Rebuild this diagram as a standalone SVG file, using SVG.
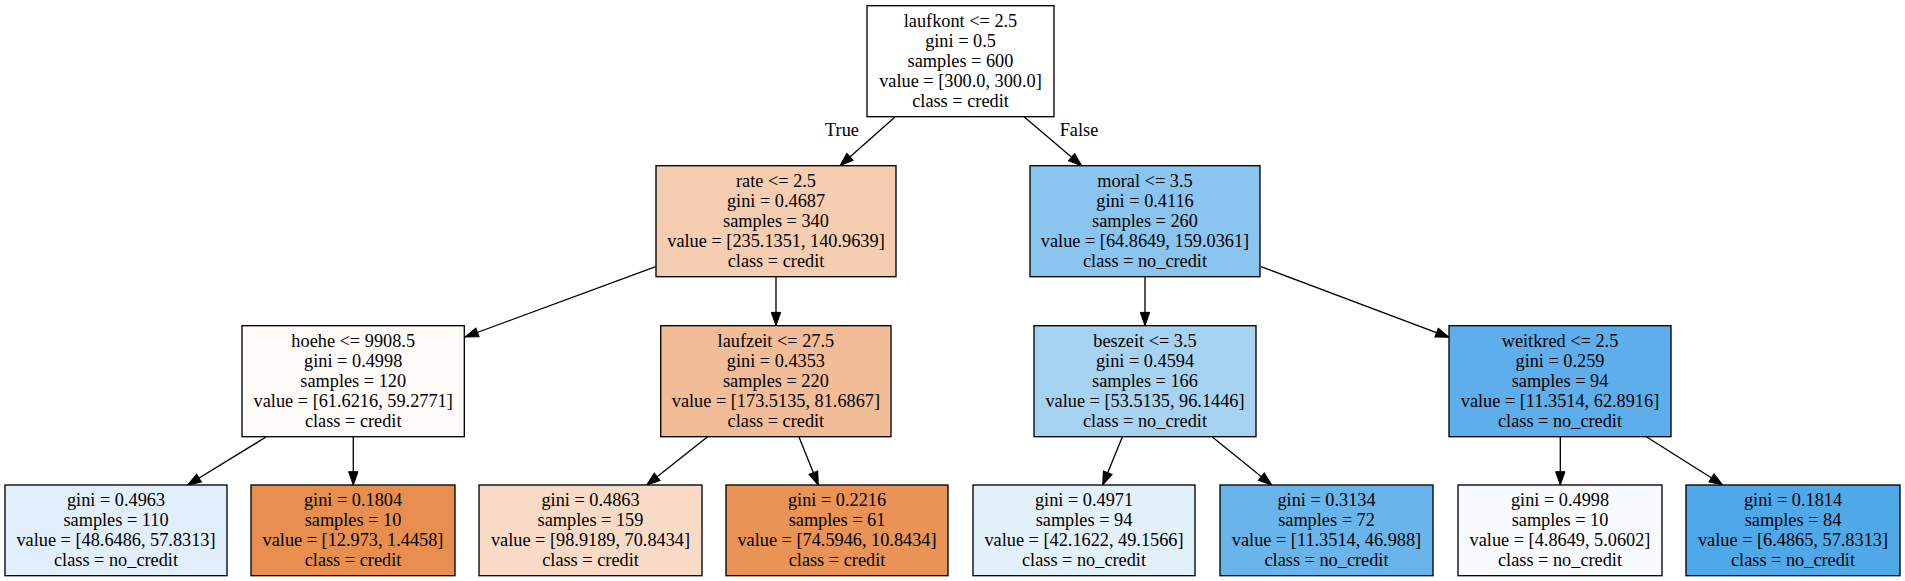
<svg xmlns="http://www.w3.org/2000/svg" width="1905" height="581" viewBox="0 0 1905 581">
<defs>
<marker id="ah" markerUnits="userSpaceOnUse" markerWidth="16" markerHeight="12" viewBox="0 -6 14 12" refX="13.3" refY="0" orient="auto">
<polygon points="0,-4.7 13.3,0 0,4.7" fill="#000" stroke="#000" stroke-width="1"/>
</marker>
<style>
.n rect{stroke:#000;stroke-width:1.33}
text{font-family:"Liberation Serif","Times New Roman",serif;font-size:18.3px;fill:#000;text-anchor:middle}
.e path{fill:none;stroke:#000;stroke-width:1.33;marker-end:url(#ah)}
</style>
</defs>
<rect x="0" y="0" width="1905" height="581" fill="#fff"/>
<g id="connectors" class="e">
<path d="M895,117 L840,165.7"/>
<path d="M1024.3,117 L1081.7,165.7"/>
<path d="M655.7,266.7 L465,337"/>
<path d="M776,277 L776,325.7"/>
<path d="M1261,266.7 L1449,337.3"/>
<path d="M1145,277 L1145,325.7"/>
<path d="M266,437 L187.7,485"/>
<path d="M353.3,437 L353.3,485"/>
<path d="M707.3,437 L646.7,485"/>
<path d="M799,437 L818.3,485"/>
<path d="M1122.3,437 L1102.7,485"/>
<path d="M1212.3,437 L1271.7,485"/>
<path d="M1560.3,437 L1560.3,485"/>
<path d="M1646.7,437 L1722.7,485"/>
<text x="842" y="136">True</text>
<text x="1079" y="136">False</text>
</g>
<g id="n0" class="n"><rect x="867" y="5.7" width="187" height="111" fill="#ffffff"/>
<text x="960.5" y="27.2">laufkont &lt;= 2.5</text><text x="960.5" y="47.2">gini = 0.5</text><text x="960.5" y="67.2">samples = 600</text><text x="960.5" y="87.2">value = [300.0, 300.0]</text><text x="960.5" y="107.2">class = credit</text></g>
<g id="n1" class="n"><rect x="656" y="165.7" width="240" height="111" fill="#f5cdb0"/>
<text x="776" y="187.2">rate &lt;= 2.5</text><text x="776" y="207.2">gini = 0.4687</text><text x="776" y="227.2">samples = 340</text><text x="776" y="247.2">value = [235.1351, 140.9639]</text><text x="776" y="267.2">class = credit</text></g>
<g id="n8" class="n"><rect x="1030" y="165.7" width="230" height="111" fill="#8ac5f0"/>
<text x="1145" y="187.2">moral &lt;= 3.5</text><text x="1145" y="207.2">gini = 0.4116</text><text x="1145" y="227.2">samples = 260</text><text x="1145" y="247.2">value = [64.8649, 159.0361]</text><text x="1145" y="267.2">class = no_credit</text></g>
<g id="n2" class="n"><rect x="242" y="325.7" width="222.3" height="111" fill="#fefaf8"/>
<text x="353.2" y="347.2">hoehe &lt;= 9908.5</text><text x="353.2" y="367.2">gini = 0.4998</text><text x="353.2" y="387.2">samples = 120</text><text x="353.2" y="407.2">value = [61.6216, 59.2771]</text><text x="353.2" y="427.2">class = credit</text></g>
<g id="n5" class="n"><rect x="660.7" y="325.7" width="230.3" height="111" fill="#f1bc96"/>
<text x="775.9" y="347.2">laufzeit &lt;= 27.5</text><text x="775.9" y="367.2">gini = 0.4353</text><text x="775.9" y="387.2">samples = 220</text><text x="775.9" y="407.2">value = [173.5135, 81.6867]</text><text x="775.9" y="427.2">class = credit</text></g>
<g id="n9" class="n"><rect x="1034" y="325.7" width="222" height="111" fill="#a7d3f3"/>
<text x="1145" y="347.2">beszeit &lt;= 3.5</text><text x="1145" y="367.2">gini = 0.4594</text><text x="1145" y="387.2">samples = 166</text><text x="1145" y="407.2">value = [53.5135, 96.1446]</text><text x="1145" y="427.2">class = no_credit</text></g>
<g id="n12" class="n"><rect x="1449" y="325.7" width="222" height="111" fill="#5daeea"/>
<text x="1560" y="347.2">weitkred &lt;= 2.5</text><text x="1560" y="367.2">gini = 0.259</text><text x="1560" y="387.2">samples = 94</text><text x="1560" y="407.2">value = [11.3514, 62.8916]</text><text x="1560" y="427.2">class = no_credit</text></g>
<g id="n3" class="n"><rect x="5" y="485" width="222" height="90.7" fill="#e0effb"/>
<text x="116" y="506.3">gini = 0.4963</text><text x="116" y="526.3">samples = 110</text><text x="116" y="546.3">value = [48.6486, 57.8313]</text><text x="116" y="566.3">class = no_credit</text></g>
<g id="n4" class="n"><rect x="251" y="485" width="204" height="90.7" fill="#e88f4f"/>
<text x="353" y="506.3">gini = 0.1804</text><text x="353" y="526.3">samples = 10</text><text x="353" y="546.3">value = [12.973, 1.4458]</text><text x="353" y="566.3">class = credit</text></g>
<g id="n6" class="n"><rect x="479" y="485" width="223" height="90.7" fill="#f8dbc7"/>
<text x="590.5" y="506.3">gini = 0.4863</text><text x="590.5" y="526.3">samples = 159</text><text x="590.5" y="546.3">value = [98.9189, 70.8434]</text><text x="590.5" y="566.3">class = credit</text></g>
<g id="n7" class="n"><rect x="726" y="485" width="222" height="90.7" fill="#e99356"/>
<text x="837" y="506.3">gini = 0.2216</text><text x="837" y="526.3">samples = 61</text><text x="837" y="546.3">value = [74.5946, 10.8434]</text><text x="837" y="566.3">class = credit</text></g>
<g id="n10" class="n"><rect x="973" y="485" width="222" height="90.7" fill="#e3f1fb"/>
<text x="1084" y="506.3">gini = 0.4971</text><text x="1084" y="526.3">samples = 94</text><text x="1084" y="546.3">value = [42.1622, 49.1566]</text><text x="1084" y="566.3">class = no_credit</text></g>
<g id="n11" class="n"><rect x="1220" y="485" width="213" height="90.7" fill="#69b5eb"/>
<text x="1326.5" y="506.3">gini = 0.3134</text><text x="1326.5" y="526.3">samples = 72</text><text x="1326.5" y="546.3">value = [11.3514, 46.988]</text><text x="1326.5" y="566.3">class = no_credit</text></g>
<g id="n13" class="n"><rect x="1458" y="485" width="204" height="90.7" fill="#f7fbfe"/>
<text x="1560" y="506.3">gini = 0.4998</text><text x="1560" y="526.3">samples = 10</text><text x="1560" y="546.3">value = [4.8649, 5.0602]</text><text x="1560" y="566.3">class = no_credit</text></g>
<g id="n14" class="n"><rect x="1686" y="485" width="214" height="90.7" fill="#4fa8e8"/>
<text x="1793" y="506.3">gini = 0.1814</text><text x="1793" y="526.3">samples = 84</text><text x="1793" y="546.3">value = [6.4865, 57.8313]</text><text x="1793" y="566.3">class = no_credit</text></g>
</svg>
